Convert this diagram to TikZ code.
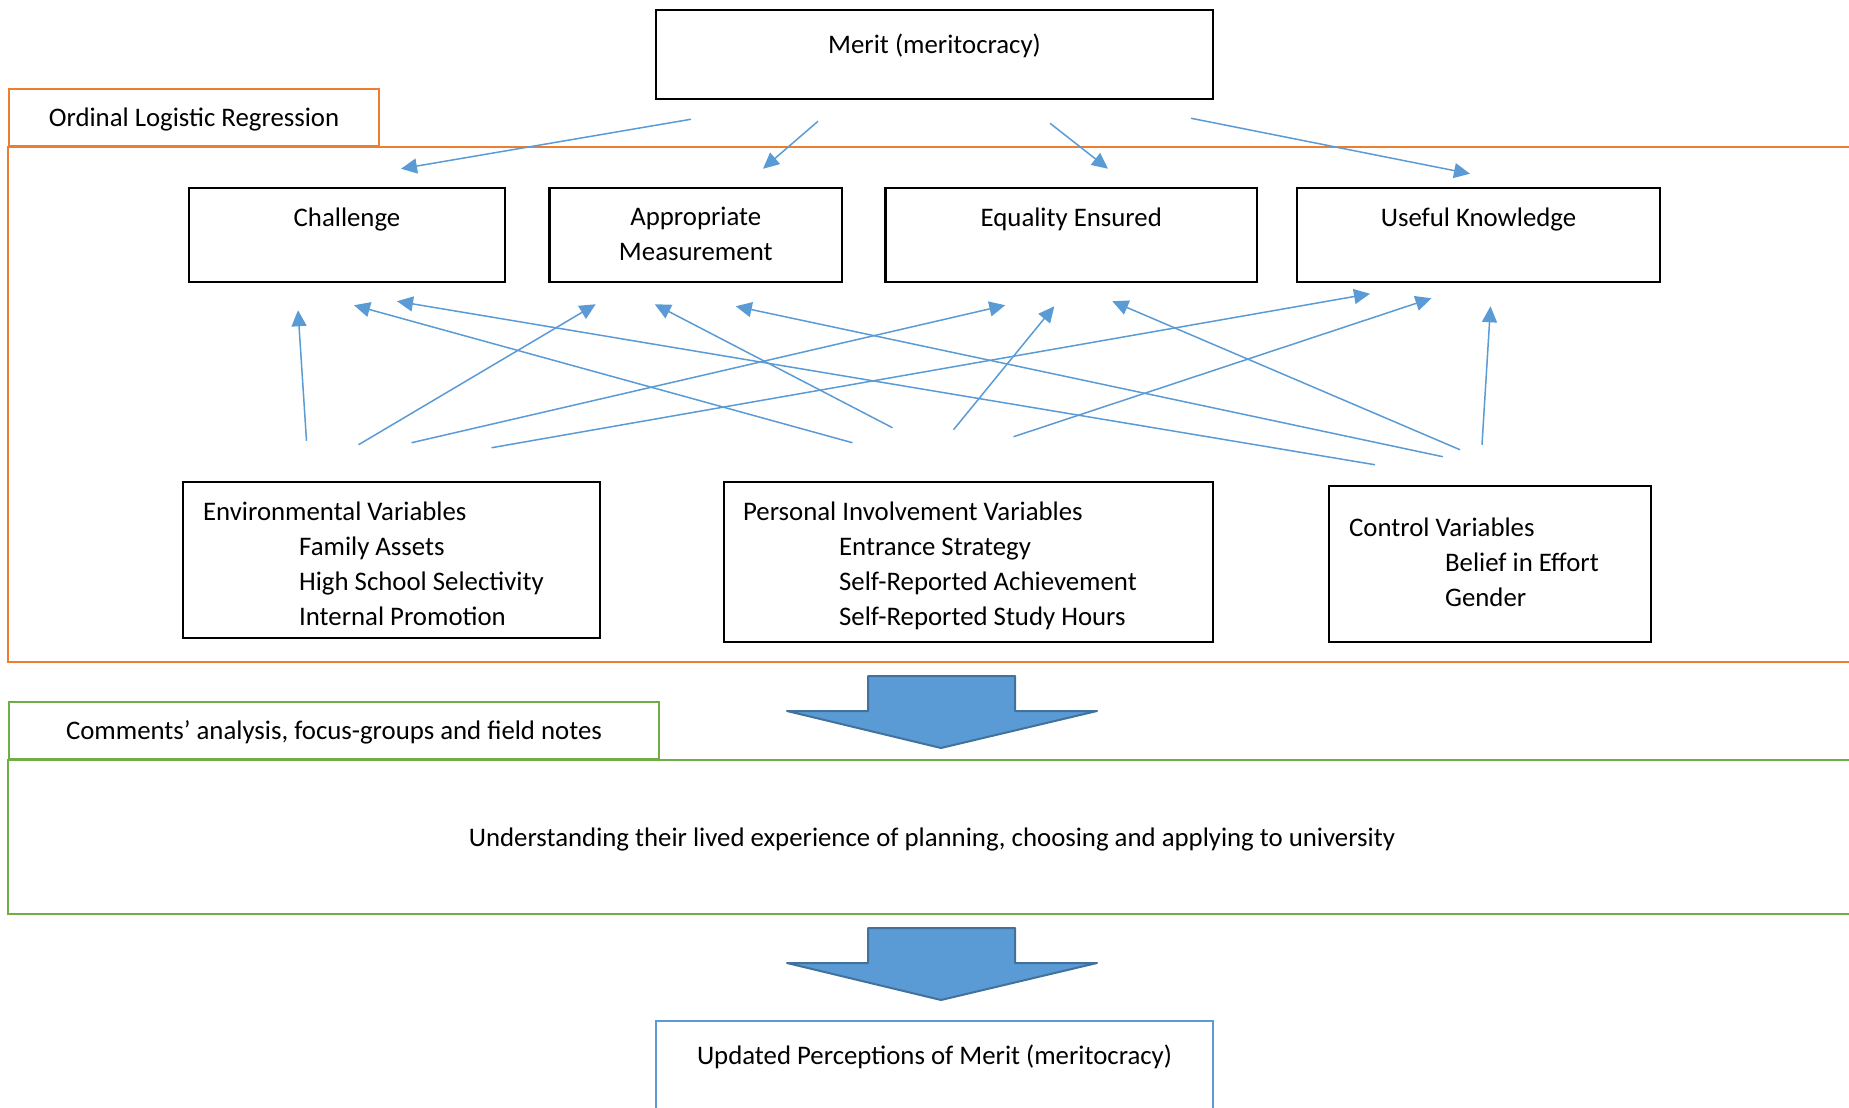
\documentclass[tikz,border=0pt]{standalone}
\usepackage{fontspec}
\setmainfont{Carlito}
\usetikzlibrary{arrows.meta,positioning}
\definecolor{wordblue}{HTML}{5B9BD5}
\definecolor{darkblue}{HTML}{41719C}
\definecolor{wordorange}{HTML}{ED7D31}
\definecolor{wordgreen}{HTML}{70AD47}
\tikzset{
  box/.style={draw=black,line width=1.25pt,inner sep=0pt},
  txt/.style={inner sep=0pt,font=\fontsize{13.4}{17.5}\selectfont},
  tab/.style={txt,line width=1pt,minimum height=28.5pt,text height=10.5pt,text depth=2pt},
  link/.style={draw=wordblue,line width=0.75pt,-{Triangle[length=8pt,width=7.5pt]}},
  bigarrow/.style={fill=wordblue,draw=darkblue,line width=1pt,line join=round}
}
\begin{document}
\begin{tikzpicture}[x=0.5pt,y=-0.5pt]
\useasboundingbox (0,0) rectangle (1849,1108);
\clip (0,0) rectangle (1849,1108);

\node[tab,draw=wordorange,minimum width=185pt] (olrtab) at (194,117.5) {Ordinal Logistic Regression};
\draw[wordorange,line width=1pt] (olrtab.south west) rectangle (1900,662);

\node[box,minimum width=278.5pt,minimum height=44.5pt] (merit) at (934.5,54.5) {};
\node[txt,anchor=base] (merittxt) at ([yshift=-22.2pt]merit.north) {Merit (meritocracy)};

\foreach \name/\cx/\w in {chal/347/158,appr/695.75/146.25,equa/1071.3/185.7,usef/1478.5/181.5}
  \node[box,minimum width=\w pt,minimum height=47pt] (\name) at (\cx,235) {};
\node[txt,anchor=base] (chaltxt) at ([yshift=-19.7pt]chal.north) {Challenge};
\node[txt,anchor=base,align=center] (apprtxt) at ([yshift=-36.7pt]appr.north) {Appropriate\\Measurement};
\node[txt,anchor=base] (equatxt) at ([yshift=-19.7pt]equa.north) {Equality Ensured};
\node[txt,anchor=base] (usertxt) at ([yshift=-19.7pt]usef.north) {Useful Knowledge};

\node[box,minimum width=208.5pt,minimum height=78pt] (env) at (391.5,560) {};
\node[box,minimum width=244.5pt,minimum height=80pt] (pers) at (968.5,562) {};
\node[box,minimum width=161pt,minimum height=78pt] (ctrl) at (1490,564) {};
\node[txt,anchor=base west,align=left] (envtxt) at ([xshift=10.5pt,yshift=-72.2pt]env.north west)
  {Environmental Variables\\\hspace*{48pt}Family Assets\\\hspace*{48pt}High School Selectivity\\\hspace*{48pt}Internal Promotion};
\node[txt,anchor=base west,align=left] (perstxt) at ([xshift=10pt,yshift=-72.2pt]pers.north west)
  {Personal Involvement Variables\\\hspace*{48pt}Entrance Strategy\\\hspace*{48pt}Self-Reported Achievement\\\hspace*{48pt}Self-Reported Study Hours};
\node[txt,anchor=base west,align=left] (ctrltxt) at ([xshift=10.5pt,yshift=-60.7pt]ctrl.north west)
  {Control Variables\\\hspace*{48pt}Belief in Effort\\\hspace*{48pt}Gender};

\foreach \sx/\sy/\dst/\tx/\ty in {-243.5/19/chal/54/-18,-116.5/21/appr/67.25/-18,115.5/23/equa/36.7/-18,256.5/18/usef/-8.5/-13}
  \draw[link] ([shift={(\sx,\sy)}]merit.south) -- ([shift={(\tx,\ty)}]\dst.north);

\foreach \src/\sx/\sy/\dst/\tx/\ty in {
  env/-85/-40/chal/-49/27, env/-33/-36/appr/-100/21, env/20/-38/equa/-66/22, env/100/-33/usef/-108.5/10.5,
  pers/-116/-38/chal/7/22, pers/-76/-53/appr/-41/21, pers/-15/-51/equa/-17/23, pers/45/-44/usef/-47/15,
  ctrl/-115/-20/chal/50/18, ctrl/-47/-28/appr/40/23, ctrl/-30/-35/equa/41/18, ctrl/-8/-40/usef/12/23}
  \draw[link] ([shift={(\sx,\sy)}]\src.north) -- ([shift={(\tx,\ty)}]\dst.south);

\foreach \y in {676,928}
  \draw[bigarrow] (868,\y) -- ++(147,0) -- ++(0,35) -- ++(82,0) -- ++(-156,37) -- ++(-154,-37) -- ++(81,0) -- cycle;

\node[tab,draw=wordgreen,minimum width=325pt] (catab) at (334,730.5) {Comments’ analysis, focus-groups and field notes};
\draw[wordgreen,line width=1pt] (catab.south west) rectangle (1900,914);
\node[txt] (livedtxt) at (932,839) {Understanding their lived experience of planning, choosing and applying to university};

\node[draw=wordblue,line width=1pt,inner sep=0pt,minimum width=278.5pt,minimum height=59.5pt] (updated) at (934.5,1080.5) {};
\node[txt,anchor=base] (updatedtxt) at ([yshift=-22.2pt]updated.north) {Updated Perceptions of Merit (meritocracy)};
\end{tikzpicture}
\end{document}
